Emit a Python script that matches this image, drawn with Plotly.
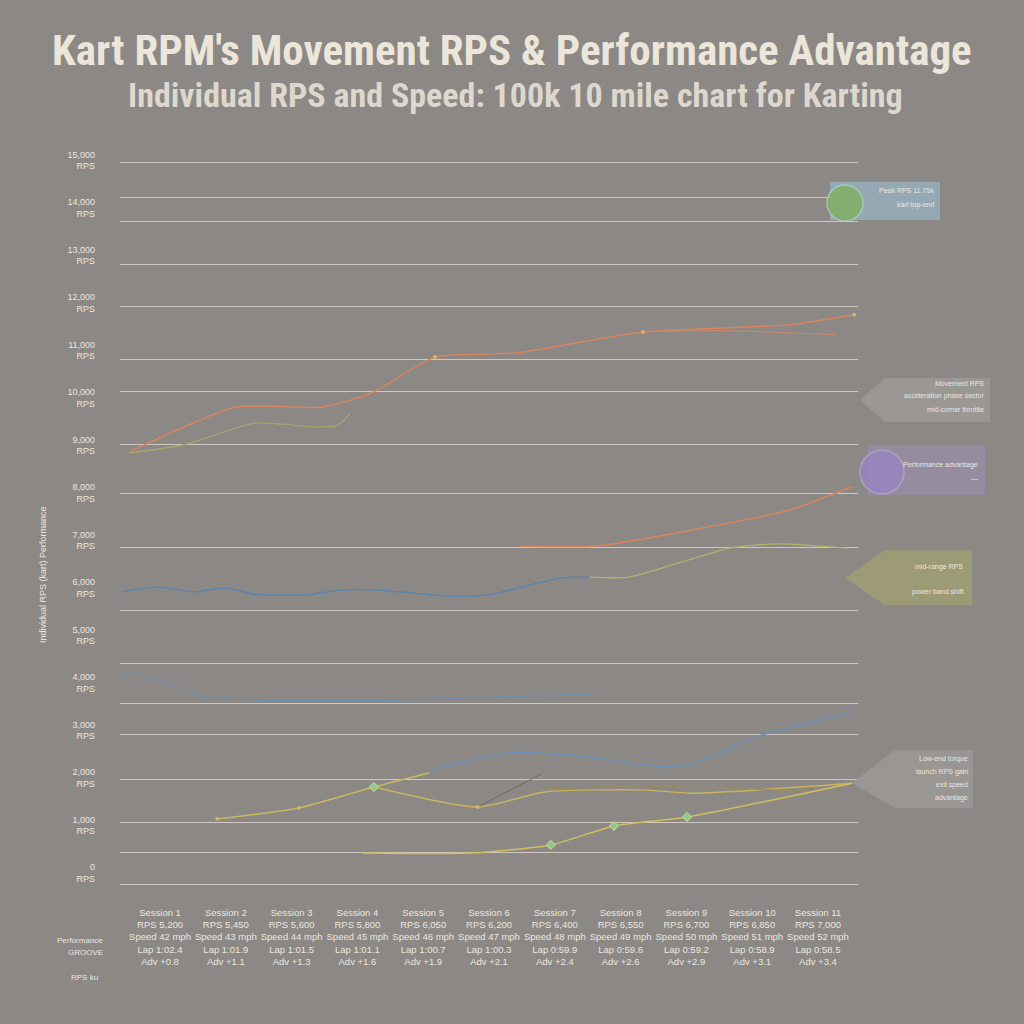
import plotly.graph_objects as go

# ---------------- data ----------------
sessions = list(range(11))
session_labels = [
    "Session 1<br>RPS 5,200<br>Speed 42 mph<br>Lap 1:02.4<br>Adv +0.8",
    "Session 2<br>RPS 5,450<br>Speed 43 mph<br>Lap 1:01.9<br>Adv +1.1",
    "Session 3<br>RPS 5,600<br>Speed 44 mph<br>Lap 1:01.5<br>Adv +1.3",
    "Session 4<br>RPS 5,800<br>Speed 45 mph<br>Lap 1:01.1<br>Adv +1.6",
    "Session 5<br>RPS 6,050<br>Speed 46 mph<br>Lap 1:00.7<br>Adv +1.9",
    "Session 6<br>RPS 6,200<br>Speed 47 mph<br>Lap 1:00.3<br>Adv +2.1",
    "Session 7<br>RPS 6,400<br>Speed 48 mph<br>Lap 0:59.9<br>Adv +2.4",
    "Session 8<br>RPS 6,550<br>Speed 49 mph<br>Lap 0:59.6<br>Adv +2.6",
    "Session 9<br>RPS 6,700<br>Speed 50 mph<br>Lap 0:59.2<br>Adv +2.9",
    "Session 10<br>RPS 6,850<br>Speed 51 mph<br>Lap 0:58.9<br>Adv +3.1",
    "Session 11<br>RPS 7,000<br>Speed 52 mph<br>Lap 0:58.5<br>Adv +3.4",
]
y_ticks = list(range(16))
y_tick_labels = [f"{v*1000:,}<br>RPS" for v in y_ticks]
grid_levels = [14.95, 14.23, 13.71, 12.82, 11.92, 10.80, 10.13, 9.03, 7.98,
               6.86, 5.52, 4.40, 3.56, 2.91, 1.96, 1.07, 0.44, -0.25]

# series (x = session index, y = RPS in thousands)
orange_top_x = [-0.47, 1.16, 2.48, 3.22, 4.18, 5.43, 7.34, 9.56, 10.55]
orange_top_y = [8.86, 9.81, 9.81, 10.11, 10.86, 10.95, 11.39, 11.54, 11.75]
orange_branch_x = [7.34, 8.5, 10.29]
orange_branch_y = [11.39, 11.42, 11.33]
green_top_x = [-0.47, 0.35, 1.44, 2.34, 2.71, 2.89]
green_top_y = [8.84, 9.01, 9.47, 9.39, 9.43, 9.68]
orange_mid_x = [5.47, 6.61, 8.09, 9.57, 10.52]
orange_mid_y = [6.88, 6.88, 7.22, 7.64, 8.13]
blue_mid_x = [-0.58, -0.03, 0.49, 1.00, 1.44, 2.19, 2.78, 3.30, 4.39, 4.98, 5.50, 6.09, 6.53]
blue_mid_y = [5.92, 6.02, 5.92, 6.00, 5.87, 5.85, 5.96, 5.96, 5.83, 5.85, 6.02, 6.21, 6.23]
olive_mid_x = [6.53, 7.13, 8.66, 9.41, 10.44]
olive_mid_y = [6.23, 6.23, 6.84, 6.93, 6.84]
blue_low1_x = [-0.58, -0.40, 0.64, 1.44, 3.65, 5.17, 6.69]
blue_low1_y = [4.23, 4.23, 3.73, 3.64, 3.64, 3.71, 3.77]
blue_low2_x = [4.10, 5.35, 6.23, 7.57, 8.09, 9.04, 10.52]
blue_low2_y = [2.17, 2.53, 2.48, 2.25, 2.29, 2.86, 3.39]
yellow1_x = [0.87, 2.11, 3.25, 4.10]
yellow1_y = [1.14, 1.37, 1.81, 2.11]
yellow2_x = [3.25, 4.83, 5.87, 7.34, 8.09, 10.52]
yellow2_y = [1.81, 1.39, 1.71, 1.75, 1.68, 1.89]
brown_x = [5.87, 7.34, 10.29]
brown_y = [1.77, 1.83, 1.70]
yellow3_x = [3.07, 4.70, 5.94, 6.90, 8.01, 10.52]
yellow3_y = [0.42, 0.42, 0.59, 0.99, 1.18, 1.89]
dark_x = [4.83, 5.79]
dark_y = [1.39, 2.08]
marker_x = [3.25, 5.94, 6.90, 8.01]
marker_y = [1.81, 0.59, 0.99, 1.18]
small_marker_x = [0.87, 2.11, 4.83, 4.18, 7.34, 10.55]
small_marker_y = [1.14, 1.37, 1.39, 10.86, 11.39, 11.75]

BG = "#8b8886"
TXT = "#ece7df"

fig = go.Figure()

def line(x, y, color, width=1.4, opacity=1.0):
    fig.add_trace(go.Scatter(x=x, y=y, mode="lines", line=dict(color=color, width=width, shape="spline", smoothing=0.6),
                             opacity=opacity, showlegend=False, hoverinfo="skip"))

line(orange_top_x, orange_top_y, "#d9845e", 1.5)
line(orange_branch_x, orange_branch_y, "#c98a6a", 1.1)
line(green_top_x, green_top_y, "#a6a66c", 1.3)
line(orange_mid_x, orange_mid_y, "#d9845e", 1.5)
line(blue_mid_x, blue_mid_y, "#5d84aa", 1.5)
line(olive_mid_x, olive_mid_y, "#b3b36a", 1.3)
line(blue_low1_x, blue_low1_y, "#6d8fb0", 1.4, 0.8)
line(blue_low2_x, blue_low2_y, "#6a90b8", 1.4)
line(yellow1_x, yellow1_y, "#c9b95c", 1.5)
line(yellow2_x, yellow2_y, "#c9b45c", 1.4)
line(brown_x, brown_y, "#9c8a62", 1.1)
line(yellow3_x, yellow3_y, "#d0bf5a", 1.5)
line(dark_x, dark_y, "#6f6c68", 1.0)

fig.add_trace(go.Scatter(x=marker_x, y=marker_y, mode="markers",
                         marker=dict(symbol="diamond", size=7, color="#8fc98a", line=dict(color="#d8d7a0", width=1)),
                         showlegend=False, hoverinfo="skip"))
fig.add_trace(go.Scatter(x=small_marker_x, y=small_marker_y, mode="markers",
                         marker=dict(symbol="circle", size=4, color="#d8b070"),
                         showlegend=False, hoverinfo="skip"))
# invisible trace to activate the grid axis
fig.add_trace(go.Scatter(x=[None], y=[None], yaxis="y2", showlegend=False, hoverinfo="skip"))

# ---------- layout helpers (pixel -> paper) ----------
L, R, T, B = 120, 858, 150, 895
def PX(p):
    return (p - L) / (R - L)
def PY(p):
    return (B - p) / (B - T)

shapes = []
annotations = []

def box(x0, y0, x1, y1, color, opacity, tip=None):
    if tip is None:
        shapes.append(dict(type="rect", xref="paper", yref="paper", x0=PX(x0), x1=PX(x1), y0=PY(y1), y1=PY(y0),
                           fillcolor=color, opacity=opacity, line=dict(width=0), layer="above"))
    else:
        tx, ty = tip
        path = (f"M {PX(tx)} {PY(ty)} L {PX(x0)} {PY(y0)} L {PX(x1)} {PY(y0)} "
                f"L {PX(x1)} {PY(y1)} L {PX(x0)} {PY(y1)} Z")
        shapes.append(dict(type="path", xref="paper", yref="paper", path=path, fillcolor=color,
                           opacity=opacity, line=dict(width=0), layer="above"))

def circle(cx, cy, r, color, opacity, ring):
    shapes.append(dict(type="circle", xref="paper", yref="paper", x0=PX(cx - r), x1=PX(cx + r),
                       y0=PY(cy + r), y1=PY(cy - r), fillcolor=color, opacity=opacity,
                       line=dict(color=ring, width=1.5), layer="above"))

def note(x, y, text, size=8, anchor="right"):
    annotations.append(dict(x=PX(x), y=PY(y), xref="paper", yref="paper", text=text, showarrow=False,
                            xanchor=anchor, yanchor="middle", font=dict(size=size, color=TXT)))

# callouts
box(830, 182, 940, 220, "#9cc0d4", 0.6)
circle(845, 203, 18, "#7fb060", 0.8, "#a9cfc4")
note(936, 190, "Peak RPS 11.75k", 7)
note(936, 205, "kart top-end", 7)

box(885, 378, 990, 422, "#a19e9b", 0.7, tip=(860, 400))
note(986, 383, "Movement RPS", 7)
note(986, 396, "acceleration phase sector", 7)
note(986, 409, "mid-corner throttle", 7)

box(868, 445, 985, 495, "#9d8fb3", 0.6)
circle(882, 472, 22, "#9a83c2", 0.75, "#b8a6d6")
note(980, 465, "Performance advantage", 7)
note(980, 478, "—", 7)

box(885, 550, 972, 605, "#a9a86c", 0.6, tip=(845, 578))
note(965, 567, "mid-range RPS", 7)
note(965, 592, "power band shift", 7)

box(895, 750, 973, 808, "#a09d9a", 0.7, tip=(852, 783))
note(970, 759, "Low-end torque", 7)
note(970, 772, "launch RPS gain", 7)
note(970, 785, "exit speed", 7)
note(970, 798, "advantage", 7)

# title + subtitle
TITLE_FONT = "Liberation Sans Narrow, Arial Narrow, Roboto Condensed, sans-serif"
annotations.append(dict(x=PX(512), y=PY(50), xref="paper", yref="paper", showarrow=False,
                        xanchor="center", yanchor="middle",
                        text="<b>Kart RPM's Movement RPS & Performance Advantage</b>",
                        font=dict(family=TITLE_FONT, size=43, color="#ebe5da")))
annotations.append(dict(x=PX(515), y=PY(95), xref="paper", yref="paper", showarrow=False,
                        xanchor="center", yanchor="middle",
                        text="<b>Individual RPS and Speed: 100k 10 mile chart for Karting</b>",
                        font=dict(family=TITLE_FONT, size=34, color="#ddd7cd")))

# y-axis title (rotated)
annotations.append(dict(x=PX(36), y=PY(575), xref="paper", yref="paper", textangle=-90, showarrow=False,
                        text="Individual RPS (kart) Performance", font=dict(size=9, color=TXT)))
# extra row labels at lower left
note(105, 940, "Performance", 8)
note(105, 952, "GROOVE", 8)
note(100, 977, "RPS ku", 8)

fig.update_layout(
    width=1024, height=1024,
    paper_bgcolor=BG, plot_bgcolor=BG,
    margin=dict(l=L, r=1024 - R, t=T, b=1024 - B),
    xaxis=dict(range=[-0.608, 10.608], tickvals=sessions, ticktext=session_labels, showgrid=False,
               zeroline=False, showline=False, ticks="", ticklabelstandoff=10,
               tickfont=dict(size=9.5, color=TXT)),
    yaxis=dict(range=[-0.463, 15.22], tickvals=y_ticks, ticktext=y_tick_labels, showgrid=False,
               zeroline=False, showline=False, ticks="", ticklabelstandoff=24,
               tickfont=dict(size=9, color=TXT)),
    yaxis2=dict(range=[-0.463, 15.22], overlaying="y", tickvals=grid_levels, showgrid=True,
                gridcolor="#cfc9c2", gridwidth=1.3, showticklabels=False, zeroline=False, ticks=""),
    shapes=shapes, annotations=annotations,
    font=dict(family="Liberation Sans, Arial, sans-serif", color=TXT),
)

fig.write_html("out.html", config={"displayModeBar": False},
               post_script="document.body.style.margin='0';document.body.style.background='#8b8886';")
